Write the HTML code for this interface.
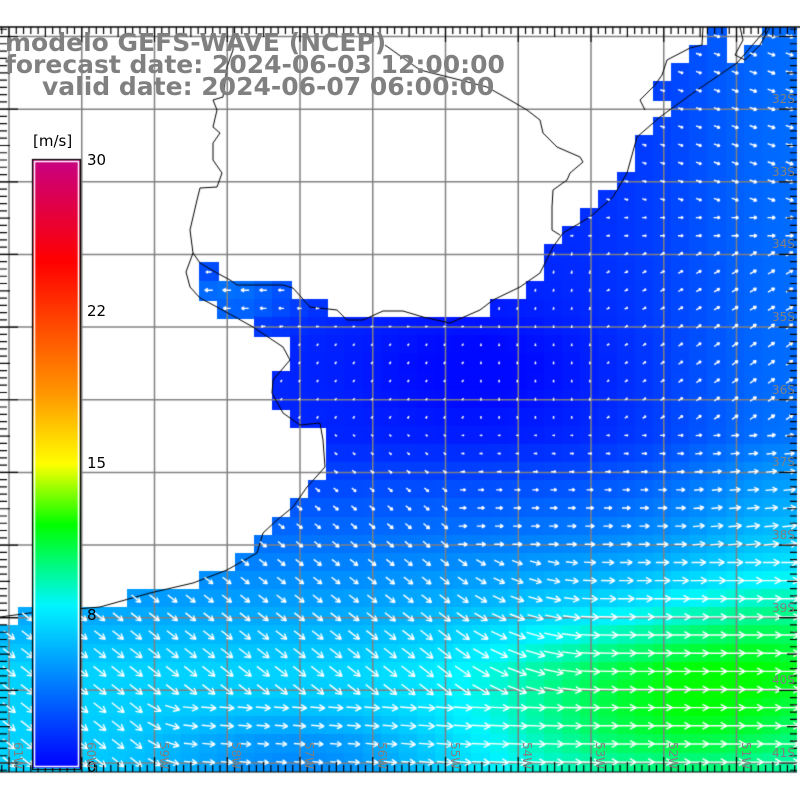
<!DOCTYPE html>
<html><head><meta charset="utf-8">
<style>
html,body{margin:0;padding:0;background:#fff;width:800px;height:800px;overflow:hidden}
#c{position:absolute;left:0;top:0}
.t{position:absolute;font-family:"DejaVu Sans",sans-serif;font-weight:bold;font-size:25px;color:#808080;white-space:nowrap;line-height:25px}
.s{position:absolute;font-family:"DejaVu Sans",sans-serif;font-size:15px;color:#000;white-space:nowrap}
.lat{position:absolute;font-family:"DejaVu Sans",sans-serif;font-size:12px;color:#808080;white-space:nowrap}
.lon{position:absolute;font-family:"DejaVu Sans",sans-serif;font-size:12px;color:#808080;white-space:nowrap;transform:rotate(90deg);transform-origin:0 0}
</style></head><body>
<canvas id="c" width="800" height="800"></canvas>
<div class="t" style="left:5px;top:30px">modelo GEFS-WAVE (NCEP)</div>
<div class="t" style="left:5px;top:52px">forecast date: 2024-06-03 12:00:00</div>
<div class="t" style="left:42px;top:74px">valid date: 2024-06-07 06:00:00</div>
<div class="s" style="left:33px;top:132px">[m/s]</div>
<div class="s" style="left:87px;top:151px">30</div>
<div class="s" style="left:87px;top:302px">22</div>
<div class="s" style="left:87px;top:454px">15</div>
<div class="s" style="left:87px;top:606px">8</div>
<div class="s" style="left:87px;top:758px">0</div>
<div id="labs"></div>
<script>
const cv=document.getElementById('c'),g=cv.getContext('2d');
const T=27,B=772,R=797,CS=18.15;
const cl=(v)=>Math.max(0,Math.min(1,v));
const q=(v)=>v*v;
function gs(x,y,x0,sx,y0,sy){return Math.exp(-q((x-x0)/sx)-q((y-y0)/sy));}
function spd(x,y){
 let s=1.3+5.6*cl((y-440)/230)
 +3.8*gs(x,y,680,170,700,90)
 +2.3*Math.exp(-q((x-800)/140))*cl((560-y)/100)
 +2.5*gs(x,y,800,120,600,110)
 +2.5*gs(x,y,230,70,295,30)
 +0.8*cl((y-440)/200)*cl((x-350)/200)
 -1.2*gs(x,y,480,120,370,60)
 -2.3*gs(x,y,300,140,760,45);
 return Math.max(0.3,s);
}
const stops=[[0,0,0,255],[4,0,120,255],[8,0,245,255],[12,0,255,0],[15,255,255,0],[18.5,255,150,0],[22,255,70,0],[25,255,0,0],[30,200,0,130]];
function cmap(v){for(let i=0;i<stops.length-1;i++){const a=stops[i],b=stops[i+1];if(v<=b[0]){const f=cl((v-a[0])/(b[0]-a[0]));return 'rgb('+Math.round(a[1]+(b[1]-a[1])*f)+','+Math.round(a[2]+(b[2]-a[2])*f)+','+Math.round(a[3]+(b[3]-a[3])*f)+')';}}return 'rgb(200,0,130)';}
function dir(x,y){
 if(y>=560){let b=x<450?38:38*cl((600-x)/150);if(y>695&&x>140)b=b*cl((200-x)/60);b=Math.max(b,15*cl((620-x)/200)*(y<695?1:0.3));return b;}
 if(y>=430){if(x<450)return 40;if(x<690)return 0;return -5;}
 if(y>=320){if(x<470)return y<340?175:125;if(x<600)return 90;return -35;}
 if(y>=240){if(x<340)return 180;if(x<600)return 100;return -30;}
 return y<210?20:0;
}
const st=[39,38,37,36,37,36,35,35,34,33,32,31,30,30,29,27,14,16,16,15,15,16,18,18,18,17,16,15,14,13,11,7,1];
const extra={13:[[11,12]],14:[[11,16]],15:[[12,18]]};
const cells=[];
for(let k=0;k<42;k++){const y0=T+k*CS;if(y0>=B)break;
 for(let j=0;j<45;j++){const x0=j*CS;if(x0>=R)break;
  let sea=k<st.length?j>=st[k]:true;
  if(!sea&&extra[k])for(const ab of extra[k])if(j>=ab[0]&&j<ab[1])sea=true;
  if(k==0&&(j==40||j==41))sea=false;if(k==1&&j==40)sea=false;
  if(sea){const cx=x0+CS/2,cy=y0+CS/2,s=spd(cx,cy);
   g.fillStyle=cmap(s);g.fillRect(Math.floor(x0),Math.floor(y0),Math.ceil(CS)+1,Math.ceil(CS)+1);cells.push([cx,cy,s]);}
 }}
g.fillStyle='#fff';g.fillRect(R,0,10,800);g.fillRect(0,B,800,30);g.fillRect(0,0,800,T);
g.strokeStyle='#808080';g.lineWidth=1.5;
for(let i=0;i<11;i++){const x=9+72.75*i;g.beginPath();g.moveTo(x,T);g.lineTo(x,B);g.stroke();}
for(let i=0;i<11;i++){const y=36.5+72.65*i;g.beginPath();g.moveTo(0,y);g.lineTo(R,y);g.stroke();}
function pl(p){g.beginPath();g.moveTo(p[0],p[1]);for(let i=2;i<p.length;i+=2)g.lineTo(p[i],p[i+1]);g.stroke();}
g.strokeStyle='#000';g.lineWidth=1;
pl([768,27,737,63,693,93,660,117,637,137,627,173,613,197,590,217,563,233,553,247,540,273,520,287,493,300,480,310,450,323,423,317,403,311,383,311,363,320,347,320,337,310,310,307,293,288,283,285,237,285,230,280,217,273,200,263,193,253,190,230,197,200,200,188,217,187,222,173,213,160,213,143,220,133,213,127,217,110,213,100,223,97,227,67,233,50,233,28]);
pl([193,253,186,272,190,287,200,298,217,307,253,327,283,347,290,360,273,380,272,393,283,413,300,425,320,423,323,440,325,467,307,487,293,507,277,520,263,533,257,553,227,570,193,583,150,593,100,607,30,613,0,617]);
pl([385,45,420,70,460,80,487,87,510,100,527,110,540,120,543,133,557,147,580,157,583,162,570,173,567,180,553,190,552,207,552,230,560,235]);
pl([703,27,702,45,690,48,667,60,662,75,655,85,640,100,645,110]);
pl([740,27,743,40,735,55,745,60,760,45,770,27]);
g.strokeStyle='#fff';g.lineWidth=1.4;
for(const c of cells){const cx=c[0],cy=c[1],s=c[2];const a=dir(cx,cy)*Math.PI/180,L=Math.min(20,Math.max(2.5,s*2.4-0.5));
 const dx=Math.cos(a),dy=Math.sin(a);const x1=cx-dx*L/2,y1=cy-dy*L/2,x2=cx+dx*L/2,y2=cy+dy*L/2;
 g.beginPath();g.moveTo(x1,y1);g.lineTo(x2,y2);const h=Math.min(7,L*0.45);
 for(const sg of [1,-1]){const b=a+Math.PI-sg*0.5;g.moveTo(x2,y2);g.lineTo(x2+Math.cos(b)*h,y2+Math.sin(b)*h);}g.stroke();}
g.strokeStyle='#000';g.lineWidth=1.5;
g.beginPath();g.moveTo(0,T);g.lineTo(800,T);g.stroke();
g.lineWidth=1.2;
for(let i=-10;i<120;i++){const x=9+7.275*i;if(x<0||x>R)continue;const l=(i%10==0)?15:((i%5==0)?10:7);
 g.beginPath();g.moveTo(x,T);g.lineTo(x,T+l);g.moveTo(x,B);g.lineTo(x,B-l);g.stroke();}
for(let i=-10;i<120;i++){const y=36.5+7.265*i;if(y<T||y>B)continue;const l=(i%10==0)?18:((i%5==0)?10:7);
 g.beginPath();g.moveTo(0,y);g.lineTo(l,y);g.moveTo(R,y);g.lineTo(R-l,y);g.stroke();}
g.beginPath();g.moveTo(0,B);g.lineTo(R,B);g.stroke();
const gr=g.createLinearGradient(0,768,0,160);
for(const s of stops){gr.addColorStop(s[0]/30,cmap(s[0]));}
g.fillStyle=gr;g.fillRect(33,160,47,608);
g.strokeStyle='#fff';g.lineWidth=1.5;g.strokeRect(34.5,161.5,44,605);
g.strokeStyle='#000';g.lineWidth=1.2;g.strokeRect(32.5,159.5,48,610);
let h='';
for(let i=0;i<11;i++){const x=9+72.75*i;h+='<div class="lon" style="left:'+(x+16)+'px;top:742px">'+(61-i)+'W</div>';}
for(let i=1;i<11;i++){const y=36.5+72.65*i;h+='<div class="lat" style="left:772px;top:'+(y-17)+'px">'+(31+i)+'S</div>';}
document.getElementById('labs').innerHTML=h;
</script>
</body></html>
